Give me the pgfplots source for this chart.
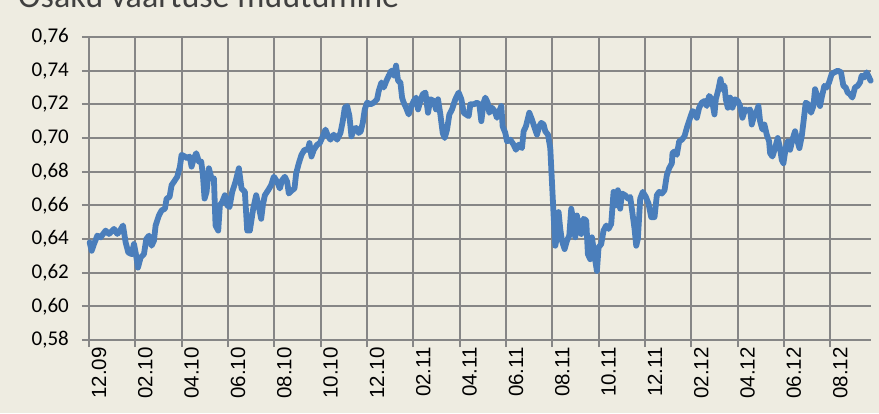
\documentclass[border=0pt]{standalone}
\usepackage{pgfplots}
\pgfplotsset{compat=1.18}
\usepackage{pgfplotstable}
\usepackage{fontspec}
\setmainfont{Carlito}
\newfontfamily\xfont{Liberation Sans}
\definecolor{bg}{HTML}{EEECE1}
\definecolor{gridc}{HTML}{868686}
\definecolor{linec}{HTML}{4A7EBB}
\pgfplotstableread{
d v
2 0.638
8 0.633
15 0.637
25 0.642
35 0.641
50 0.645
60 0.643
75 0.646
85 0.643
93 0.645
102 0.648
110 0.638
118 0.632
128 0.631
135 0.637
140 0.632
147 0.623
155 0.629
165 0.631
172 0.640
180 0.642
188 0.636
195 0.639
200 0.648
210 0.654
218 0.657
228 0.658
233 0.664
242 0.665
248 0.672
255 0.674
265 0.677
273 0.683
278 0.690
288 0.689
295 0.688
302 0.689
308 0.683
315 0.688
322 0.691
330 0.686
337 0.686
342 0.678
347 0.664
353 0.668
360 0.682
368 0.676
375 0.676
380 0.648
388 0.645
393 0.660
400 0.662
408 0.666
415 0.660
422 0.659
430 0.668
440 0.674
450 0.682
458 0.670
468 0.668
475 0.645
483 0.645
493 0.658
502 0.666
510 0.659
517 0.652
522 0.660
528 0.666
538 0.669
547 0.672
555 0.677
565 0.674
573 0.670
580 0.675
588 0.677
595 0.674
600 0.667
610 0.669
617 0.670
622 0.679
630 0.685
638 0.690
647 0.693
657 0.693
662 0.697
668 0.689
675 0.693
685 0.696
693 0.697
702 0.701
710 0.705
718 0.701
725 0.699
735 0.702
745 0.699
755 0.703
762 0.710
768 0.718
775 0.719
782 0.713
788 0.701
795 0.705
802 0.706
810 0.703
816 0.704
822 0.709
828 0.717
835 0.721
845 0.720
855 0.721
865 0.723
870 0.728
878 0.733
885 0.730
893 0.734
900 0.737
908 0.740
915 0.737
922 0.743
928 0.734
935 0.733
940 0.724
945 0.721
952 0.718
960 0.714
968 0.719
975 0.722
982 0.724
988 0.717
995 0.722
1002 0.726
1010 0.727
1018 0.715
1025 0.723
1035 0.722
1042 0.717
1048 0.723
1055 0.714
1062 0.703
1068 0.700
1075 0.705
1082 0.714
1090 0.717
1100 0.723
1110 0.727
1118 0.723
1125 0.715
1132 0.714
1140 0.713
1145 0.720
1155 0.720
1165 0.721
1172 0.720
1178 0.710
1185 0.721
1190 0.724
1197 0.721
1202 0.715
1210 0.718
1218 0.716
1225 0.712
1232 0.716
1238 0.719
1242 0.707
1250 0.703
1255 0.698
1265 0.699
1275 0.696
1282 0.693
1290 0.696
1300 0.694
1305 0.704
1312 0.707
1322 0.715
1330 0.711
1338 0.706
1345 0.702
1352 0.707
1358 0.709
1365 0.708
1370 0.704
1378 0.702
1385 0.694
1390 0.674
1395 0.654
1400 0.636
1405 0.641
1410 0.656
1415 0.646
1420 0.639
1428 0.634
1435 0.639
1442 0.642
1448 0.658
1455 0.650
1460 0.641
1465 0.654
1472 0.646
1478 0.643
1485 0.652
1493 0.651
1498 0.631
1505 0.628
1510 0.641
1518 0.630
1525 0.621
1530 0.635
1538 0.637
1545 0.645
1553 0.648
1560 0.646
1568 0.649
1575 0.668
1582 0.660
1588 0.669
1595 0.658
1600 0.667
1610 0.666
1618 0.664
1625 0.665
1632 0.655
1638 0.646
1643 0.636
1648 0.640
1655 0.664
1663 0.668
1672 0.665
1680 0.661
1688 0.653
1698 0.653
1705 0.666
1712 0.668
1720 0.667
1728 0.669
1735 0.678
1742 0.682
1750 0.685
1752 0.691
1758 0.692
1765 0.690
1772 0.698
1780 0.699
1788 0.701
1795 0.706
1805 0.712
1812 0.716
1820 0.715
1825 0.712
1832 0.718
1840 0.721
1848 0.722
1855 0.719
1862 0.725
1870 0.723
1878 0.714
1882 0.723
1890 0.729
1896 0.735
1902 0.729
1908 0.731
1912 0.723
1918 0.718
1925 0.724
1932 0.718
1940 0.723
1948 0.722
1955 0.719
1962 0.712
1970 0.717
1978 0.716
1985 0.717
1990 0.708
1998 0.714
2005 0.716
2010 0.719
2015 0.710
2022 0.705
2028 0.708
2035 0.702
2042 0.698
2045 0.691
2052 0.689
2060 0.694
2068 0.700
2075 0.694
2080 0.687
2085 0.685
2092 0.694
2098 0.698
2105 0.693
2112 0.699
2120 0.704
2126 0.699
2133 0.694
2140 0.701
2145 0.709
2152 0.721
2160 0.720
2168 0.715
2175 0.719
2180 0.729
2188 0.724
2195 0.719
2200 0.724
2208 0.731
2215 0.730
2222 0.733
2230 0.738
2238 0.739
2248 0.740
2258 0.739
2265 0.731
2272 0.730
2278 0.727
2285 0.726
2292 0.724
2300 0.730
2308 0.731
2315 0.733
2320 0.737
2328 0.736
2335 0.739
2340 0.737
2347 0.734
}\fundtable
\begin{document}
\begin{tikzpicture}[x=1pt,y=1pt]
\useasboundingbox (0,0) rectangle (879,413);
\fill[bg] (0,0) rectangle (879,413);
\node[anchor=base west, inner sep=0pt, font=\fontsize{34}{34}\selectfont, text=black!75] at (18,405) {Osaku väärtuse muutumine};
\begin{axis}[
  at={(89pt,73pt)}, anchor=origin,
  scale only axis, width=782pt, height=303pt,
  xmin=0, xmax=33.76, ymin=0.58, ymax=0.76,
  axis line style={gridc, line width=1.9pt},
  axis x line*=bottom, axis y line*=left,
  grid=major,
  major grid style={gridc, line width=1.9pt},
  xtick={0,2,...,32},
  xticklabels={12.09,02.10,04.10,06.10,08.10,10.10,12.10,02.11,04.11,06.11,08.11,10.11,12.11,02.12,04.12,06.12,08.12},
  ytick={0.58,0.60,...,0.761},
  yticklabels={{0,58},{0,60},{0,62},{0,64},{0,66},{0,68},{0,70},{0,72},{0,74},{0,76}},
  tick align=outside, major tick length=7pt,
  tick style={gridc, line width=1.9pt},
  xticklabel style={rotate=90, anchor=east, font=\xfont\fontsize{20.5}{20.5}\selectfont, inner sep=0pt, yshift=-10pt},
  yticklabel style={anchor=east, font=\fontsize{21}{21}\selectfont, inner sep=0pt, xshift=-13pt},
  clip=false,
]
\addplot[linec, line width=5.8pt, line join=round, line cap=round] table[x expr=\thisrow{d}/69.55, y=v] {\fundtable};
\end{axis}
\end{tikzpicture}
\end{document}
